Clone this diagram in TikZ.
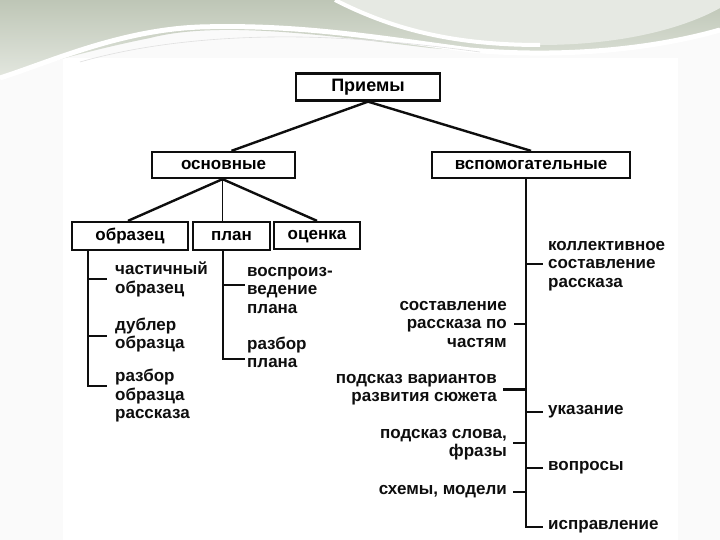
\documentclass[tikz,border=0pt]{standalone}
\usepackage{fontspec}
\setmainfont{Liberation Sans}
\usetikzlibrary{calc}
\definecolor{bgpage}{HTML}{FAFAFA}
\definecolor{swtop}{HTML}{BEC6B6}
\definecolor{swbot}{HTML}{E2E6DE}
\definecolor{swlight}{HTML}{E6E9E3}
\definecolor{ink}{HTML}{0E0E0E}
\tikzset{
  box/.style={draw=ink, line width=2.3pt, fill=white, inner sep=0pt, text height=12pt, text depth=3.5pt, font=\fontsize{17}{19}\selectfont\bfseries},
  wire/.style={draw=ink, line width=2.4pt},
  thinwire/.style={draw=ink, line width=0.9pt},
  lbl/.style={inner ysep=0pt, inner xsep=0pt, font=\fontsize{17}{18.5}\selectfont\bfseries, text=ink},
}
\begin{document}
\begin{tikzpicture}[x=1pt,y=-1pt]
\useasboundingbox (0,0) rectangle (720,540);
% background
\fill[bgpage] (0,0) rectangle (720,540);
\fill[white] (63,58) rectangle (678,540);
\shade[top color=swtop, bottom color=swbot] (0,0) -- (720,0) -- (720,28)
  .. controls (640,55) and (520,55) .. (430,48)
  .. controls (330,36) and (220,20) .. (150,38)
  .. controls (90,50) and (40,65) .. (0,76) -- cycle;
\fill[swlight] (335,0) .. controls (390,28) and (450,45) .. (540,45)
  .. controls (630,45) and (690,25) .. (720,8) -- (720,0) -- cycle;
\draw[white, line width=4pt] (335,0) .. controls (390,28) and (450,45) .. (540,45);
\draw[white, line width=5pt] (0,78) .. controls (50,62) and (120,30) .. (200,27)
  .. controls (300,24) and (380,38) .. (470,50) .. controls (560,58) and (650,50) .. (720,30);
\draw[black!12, line width=0.6pt] (80,62) .. controls (150,42) and (230,36) .. (300,37)
  .. controls (360,38) and (420,44) .. (480,52);

% boxes
\node[box, minimum width=144pt, minimum height=27pt, font=\fontsize{18}{19}\selectfont\bfseries] (pri) at (368,87) {Приемы};
\node[box, minimum width=143pt, minimum height=26pt] (osn) at (223.5,165) {основные};
\node[box, minimum width=198pt, minimum height=26pt] (vsp) at (531,165) {вспомогательные};
\node[box, minimum width=116pt, minimum height=28pt] (obr) at (130,236) {образец};
\node[box, minimum width=77pt, minimum height=28pt] (pla) at (231.5,236) {план};
\node[box, minimum width=86pt, minimum height=27pt] (oce) at (317,235.5) {оценка};

% tree connectors
\draw[wire] (pri.south) -- ($(osn.north)+(8,0)$);
\draw[wire] (pri.south) -- (vsp.north);
\draw[wire] ($(osn.south)+(-1,0)$) -- ($(obr.north)+(-2,0)$);
\draw[thinwire] ($(osn.south)+(-1,0)$) -- ($(pla.north)+(-9,0)$);
\draw[wire] ($(osn.south)+(-1,0)$) -- (oce.north);

% left column (образец)
\node[lbl, anchor=west, align=left] (t1) at (115,279.5) {частичный\\образец};
\node[lbl, anchor=west, align=left] (t2) at (115,335) {дублер\\образца};
\node[lbl, anchor=west, align=left] (t3) at (115,396) {разбор\\образца\\рассказа};
\coordinate (lt) at (88,250);
\coordinate (l1) at (88,279);
\coordinate (l2) at (88,336);
\coordinate (l3) at (88,386);
\draw[wire] (lt) -- (l3) -- ($(l3 -| t3.west)+(-8,0)$);
\draw[wire] (l1) -- ($(l1 -| t1.west)+(-8,0)$);
\draw[wire] (l2) -- ($(l2 -| t2.west)+(-8,0)$);

% middle column (план)
\node[lbl, anchor=west, align=left] (m1) at (247,290) {воспроиз-\\ведение\\плана};
\node[lbl, anchor=west, align=left] (m2) at (247,352.5) {разбор\\плана};
\coordinate (ct) at (223,250);
\coordinate (c1) at (223,285);
\coordinate (c2) at (223,359);
\draw[wire] (ct) -- (c2) -- ($(c2 -| m2.west)+(-2,0)$);
\draw[wire] (c1) -- ($(c1 -| m1.west)+(-2,0)$);

% right column (вспомогательные)
\node[lbl, anchor=west, align=left] (r1) at (548,266) {коллективное\\составление\\рассказа};
\node[lbl, anchor=west] (r2) at (548,412) {указание};
\node[lbl, anchor=west] (r3) at (548,468) {вопросы};
\node[lbl, anchor=west] (r4) at (548,527) {исправление};
\node[lbl, anchor=east, align=right] (s1) at (507,324.5) {составление\\рассказа по\\частям};
\node[lbl, anchor=east, align=right] (s2) at (497,389.5) {подсказ вариантов\\развития сюжета};
\node[lbl, anchor=east, align=right] (s3) at (507,444.5) {подсказ слова,\\фразы};
\node[lbl, anchor=east] (s4) at (507,492) {схемы, модели};

\coordinate (vtop) at (526,178);
\coordinate (vbot) at (526,527);
\coordinate (v1) at (526,264);
\coordinate (v2) at (526,412);
\coordinate (v3) at (526,468);
\coordinate (w1) at (526,324);
\coordinate (w2) at (526,389);
\coordinate (w3) at (526,443);
\coordinate (w4) at (526,492);
\draw[wire] (vtop) -- (vbot) -- ($(vbot -| r4.west)+(-5,0)$);
\draw[wire] (v1) -- ($(v1 -| r1.west)+(-5,0)$);
\draw[wire] (v2) -- ($(v2 -| r2.west)+(-5,0)$);
\draw[wire] (v3) -- ($(v3 -| r3.west)+(-5,0)$);
\draw[wire] (w1) -- ($(w1 -| s1.east)+(7,0)$);
\draw[draw=ink, line width=3pt] (w2) -- ($(w2 -| s2.east)+(6,0)$);
\draw[wire] (w3) -- ($(w3 -| s3.east)+(6,0)$);
\draw[wire] (w4) -- ($(w4 -| s4.east)+(6,0)$);
\end{tikzpicture}
\end{document}
